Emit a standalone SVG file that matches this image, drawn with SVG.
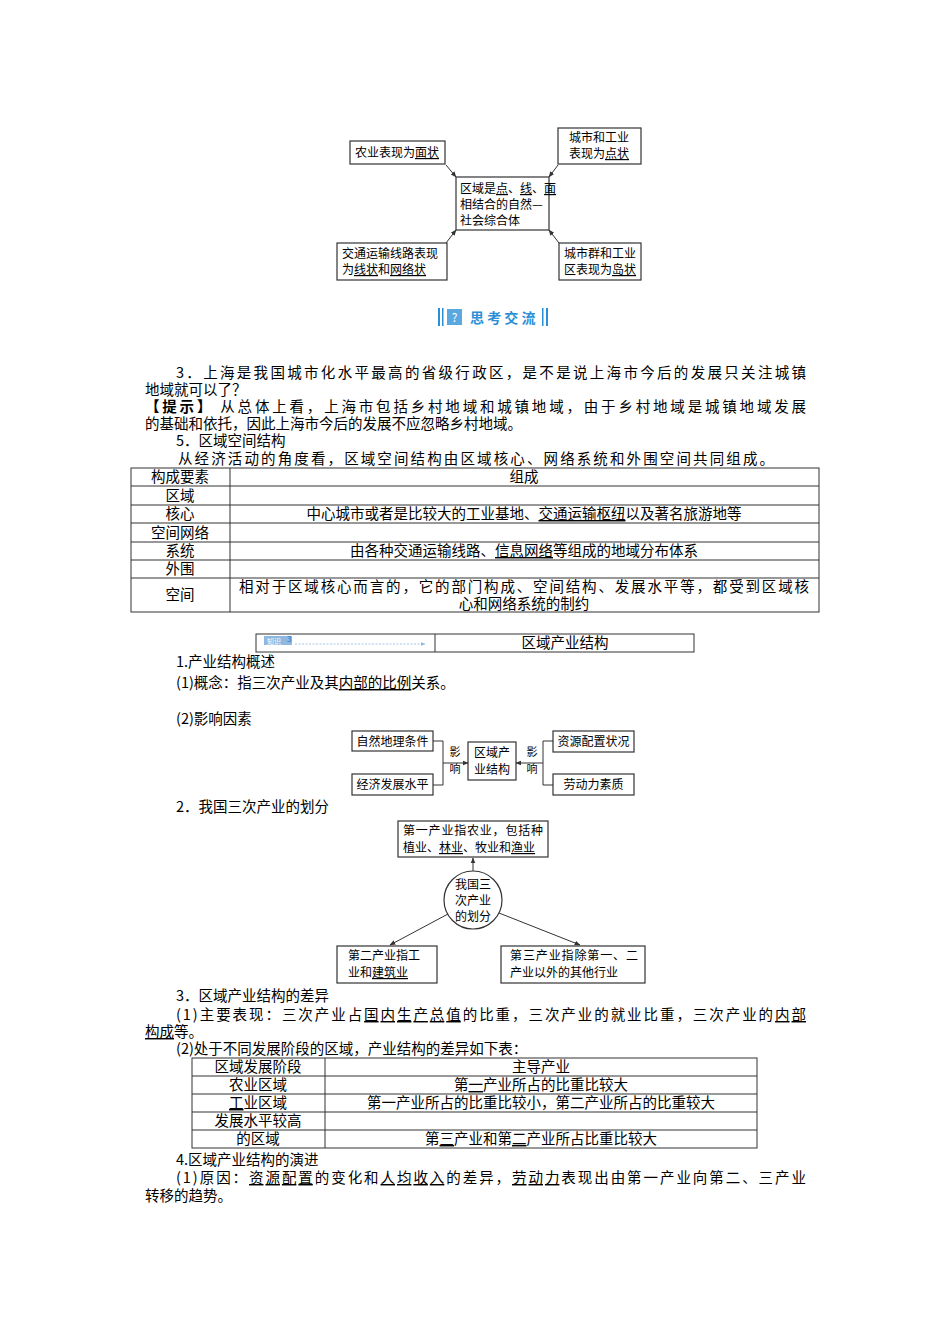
<svg xmlns="http://www.w3.org/2000/svg" width="950" height="1344" viewBox="0 0 950 1344">
<style>
text{font-family:"Noto Sans CJK SC","Liberation Serif",serif;fill:#000}
.b{font-size:14.5px}
.d{font-size:12px}
.c{text-anchor:middle}
.u{text-decoration:underline}
.box{fill:#fff;stroke:#333;stroke-width:1.2}
.ln{fill:none;stroke:#333;stroke-width:1}
.t{fill:none;stroke:#333;stroke-width:1}
</style>
<defs>
<marker id="a" viewBox="0 0 10 10" refX="9" refY="5" markerWidth="6" markerHeight="6" orient="auto"><path d="M0,1 L10,5 L0,9 z" fill="#333"/></marker>
<marker id="a2" viewBox="0 0 10 10" refX="9" refY="5" markerWidth="6" markerHeight="6" orient="auto"><path d="M0,1 L10,5 L0,9 z" fill="#8fb8e0"/></marker>
</defs>
<rect width="950" height="1344" fill="#fff"/>

<g id="d1-nodes">
<g id="n-mian"><rect class="box" x="350" y="141" width="95" height="23"/><text class="d" x="355" y="157">农业表现为<tspan class="u">面状</tspan></text></g>
<g id="n-dian"><rect class="box" x="558" y="128" width="83" height="36"/><text class="d" x="569" y="142">城市和工业</text><text class="d" x="569" y="158">表现为<tspan class="u">点状</tspan></text></g>
<g id="n-center"><rect class="box" x="456" y="177" width="93" height="53"/><text class="d" x="460" y="193">区域是<tspan class="u">点</tspan>、<tspan class="u">线</tspan>、<tspan class="u">面</tspan></text><text class="d" x="460" y="209">相结合的自然—</text><text class="d" x="460" y="225">社会综合体</text></g>
<g id="n-xian"><rect class="box" x="337" y="243" width="110" height="37"/><text class="d" x="342" y="258">交通运输线路表现</text><text class="d" x="342" y="274">为<tspan class="u">线状</tspan>和<tspan class="u">网络状</tspan></text></g>
<g id="n-dao"><rect class="box" x="559" y="243" width="82" height="37"/><text class="d" x="564" y="258">城市群和工业</text><text class="d" x="564" y="274">区表现为<tspan class="u">岛状</tspan></text></g>
</g>
<g id="d1-connectors">
<line class="ln" x1="446" y1="165" x2="456" y2="177" marker-end="url(#a)"/>
<line class="ln" x1="558" y1="165" x2="549" y2="177" marker-end="url(#a)"/>
<line class="ln" x1="446" y1="243" x2="456" y2="230" marker-end="url(#a)"/>
<line class="ln" x1="559" y1="243" x2="549" y2="230" marker-end="url(#a)"/>
</g>

<g id="header-sikao">
<rect x="438" y="308" width="2" height="18" fill="#2a8fd6"/><rect x="442" y="308" width="1.5" height="18" fill="#2a8fd6"/>
<rect x="447" y="309" width="15" height="16" fill="#5aa8e0"/><text x="454.5" y="322" class="c" style="font-size:12px;fill:#fff">?</text>
<text x="470" y="323" style="font-size:14px;font-weight:bold;fill:#2a8fd6">思 考 交 流</text>
<rect x="542" y="308" width="1.5" height="18" fill="#2a8fd6"/><rect x="546" y="308" width="2" height="18" fill="#2a8fd6"/>
</g>

<g id="text1">
<text class="b" x="176" y="378" textLength="630">3．上海是我国城市化水平最高的省级行政区，是不是说上海市今后的发展只关注城镇</text>
<text class="b" x="145" y="395">地域就可以了？</text>
<text class="b" x="145" y="412" textLength="661"><tspan font-weight="bold">【提示】</tspan> 从总体上看，上海市包括乡村地域和城镇地域，由于乡村地域是城镇地域发展</text>
<text class="b" x="145" y="429">的基础和依托，因此上海市今后的发展不应忽略乡村地域。</text>
<text class="b" x="176" y="446">5．区域空间结构</text>
<text class="b" x="178" y="464" textLength="596">从经济活动的角度看，区域空间结构由区域核心、网络系统和外围空间共同组成。</text>
</g>

<g id="table1">
<rect class="t" x="131" y="468" width="688" height="144"/>
<line class="t" x1="230" y1="468" x2="230" y2="612"/>
<line class="t" x1="131" y1="486" x2="819" y2="486"/>
<line class="t" x1="131" y1="505" x2="819" y2="505"/>
<line class="t" x1="131" y1="523" x2="819" y2="523"/>
<line class="t" x1="131" y1="542" x2="819" y2="542"/>
<line class="t" x1="131" y1="560" x2="819" y2="560"/>
<line class="t" x1="131" y1="578" x2="819" y2="578"/>
<text class="b c" x="180" y="482">构成要素</text><text class="b c" x="524" y="482">组成</text>
<text class="b c" x="180" y="501">区域</text>
<text class="b c" x="180" y="519">核心</text><text class="b c" x="524" y="519">中心城市或者是比较大的工业基地、<tspan class="u">交通运输枢纽</tspan>以及著名旅游地等</text>
<text class="b c" x="180" y="538">空间网络</text>
<text class="b c" x="180" y="556">系统</text><text class="b c" x="524" y="556">由各种交通运输线路、<tspan class="u">信息网络</tspan>等组成的地域分布体系</text>
<text class="b c" x="180" y="574">外围</text>
<text class="b c" x="180" y="600">空间</text>
<text class="b c" x="524" y="592" textLength="570">相对于区域核心而言的，它的部门构成、空间结构、发展水平等，都受到区域核</text>
<text class="b c" x="524" y="609">心和网络系统的制约</text>
</g>

<g id="band">
<rect class="t" x="256" y="634" width="438" height="18"/>
<line class="t" x1="435" y1="634" x2="435" y2="652"/>
<rect x="264" y="636" width="28" height="9" fill="#8fb8e0"/>
<text x="267" y="644" style="font-size:7px;fill:#fff">知识</text><text x="287" y="642" style="font-size:8px;fill:#2a6fc0">3</text>
<line x1="295" y1="644" x2="425" y2="644" stroke="#8fb8e0" stroke-width="0.8" stroke-dasharray="2,1.5" marker-end="url(#a2)"/>
<text class="b c" x="565" y="648">区域产业结构</text>
</g>

<g id="text2">
<text class="b" x="176" y="667">1.产业结构概述</text>
<text class="b" x="176" y="688">(1)概念：指三次产业及其<tspan class="u">内部的比例</tspan>关系。</text>
<text class="b" x="176" y="724">(2)影响因素</text>
</g>

<g id="d2-nodes">
<g id="n-ziran"><rect class="box" x="352" y="731" width="81" height="20"/><text class="d c" x="392.5" y="746">自然地理条件</text></g>
<g id="n-jingji"><rect class="box" x="352" y="774" width="81" height="21"/><text class="d c" x="392.5" y="789">经济发展水平</text></g>
<g id="n-quyu"><rect class="box" x="468" y="742" width="48" height="38"/><text class="d c" x="492" y="757">区域产</text><text class="d c" x="492" y="774">业结构</text></g>
<g id="n-ziyuan"><rect class="box" x="553" y="731" width="81" height="21"/><text class="d c" x="593.5" y="746">资源配置状况</text></g>
<g id="n-laodong"><rect class="box" x="553" y="774" width="81" height="21"/><text class="d c" x="593.5" y="789">劳动力素质</text></g>
<text class="c" x="455" y="756" style="font-size:11px">影</text><text class="c" x="455" y="773" style="font-size:11px">响</text>
<text class="c" x="532" y="756" style="font-size:11px">影</text><text class="c" x="532" y="773" style="font-size:11px">响</text>
</g>
<g id="d2-connectors">
<polyline class="ln" points="433,741 443,741 443,785 433,785"/>
<line class="ln" x1="443" y1="763" x2="468" y2="763" marker-end="url(#a)"/>
<polyline class="ln" points="553,741 543,741 543,785 553,785"/>
<line class="ln" x1="543" y1="763" x2="516" y2="763" marker-end="url(#a)"/>
</g>

<text class="b" x="176" y="812">2．我国三次产业的划分</text>

<g id="d3-nodes">
<g id="n-di1"><rect class="box" x="398" y="821" width="150" height="36"/><text class="d" x="403" y="835" textLength="140">第一产业指农业，包括种</text><text class="d" x="403" y="852">植业、<tspan class="u">林业</tspan>、牧业和<tspan class="u">渔业</tspan></text></g>
<g id="n-circle"><circle class="box" cx="473" cy="900" r="29"/><text class="d c" x="473" y="889">我国三</text><text class="d c" x="473" y="905">次产业</text><text class="d c" x="473" y="921">的划分</text></g>
<g id="n-di2"><rect class="box" x="337" y="946" width="100" height="37"/><text class="d" x="348" y="960">第二产业指工</text><text class="d" x="348" y="977">业和<tspan class="u">建筑业</tspan></text></g>
<g id="n-di3"><rect class="box" x="501" y="946" width="144" height="37"/><text class="d" x="510" y="960" textLength="128">第三产业指除第一、二</text><text class="d" x="510" y="977">产业以外的其他行业</text></g>
</g>
<g id="d3-connectors">
<line class="ln" x1="473" y1="871" x2="473" y2="858" marker-end="url(#a)"/>
<line class="ln" x1="448" y1="914" x2="390" y2="945" marker-end="url(#a)"/>
<line class="ln" x1="499" y1="913" x2="580" y2="945" marker-end="url(#a)"/>
</g>

<g id="text3">
<text class="b" x="176" y="1001">3．区域产业结构的差异</text>
<text class="b" x="176" y="1020" textLength="630">(1)主要表现：三次产业占<tspan class="u">国内生产总值</tspan>的比重，三次产业的就业比重，三次产业的<tspan class="u">内部</tspan></text>
<text class="b" x="145" y="1037"><tspan class="u">构成</tspan>等。</text>
<text class="b" x="176" y="1054">(2)处于不同发展阶段的区域，产业结构的差异如下表：</text>
</g>

<g id="table2">
<rect class="t" x="192" y="1058" width="565" height="90"/>
<line class="t" x1="325" y1="1058" x2="325" y2="1148"/>
<line class="t" x1="192" y1="1076" x2="757" y2="1076"/>
<line class="t" x1="192" y1="1094" x2="757" y2="1094"/>
<line class="t" x1="192" y1="1112" x2="757" y2="1112"/>
<line class="t" x1="192" y1="1130" x2="757" y2="1130"/>
<text class="b c" x="258" y="1072">区域发展阶段</text><text class="b c" x="541" y="1072">主导产业</text>
<text class="b c" x="258" y="1090">农业区域</text><text class="b c" x="541" y="1090">第<tspan class="u">一</tspan>产业所占的比重比较大</text>
<text class="b c" x="258" y="1108"><tspan class="u">工</tspan>业区域</text><text class="b c" x="541" y="1108">第一产业所占的比重比较小，第二产业所占的比重较大</text>
<text class="b c" x="258" y="1126">发展水平较高</text>
<text class="b c" x="258" y="1144">的区域</text><text class="b c" x="541" y="1144">第<tspan class="u">三</tspan>产业和第<tspan class="u">二</tspan>产业所占比重比较大</text>
</g>

<g id="text4">
<text class="b" x="176" y="1165">4.区域产业结构的演进</text>
<text class="b" x="176" y="1183" textLength="630">(1)原因：<tspan class="u">资源配置</tspan>的变化和<tspan class="u">人均收入</tspan>的差异，<tspan class="u">劳动力</tspan>表现出由第一产业向第二、三产业</text>
<text class="b" x="145" y="1201">转移的趋势。</text>
</g>
</svg>
